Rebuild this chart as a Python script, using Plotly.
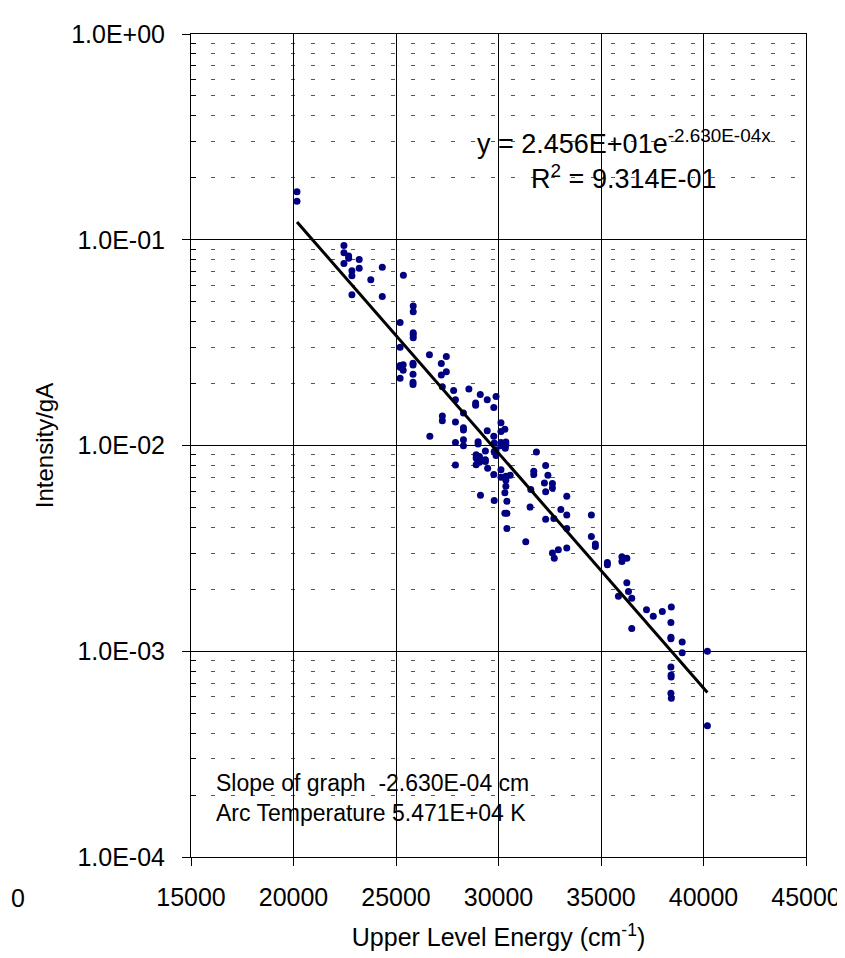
import plotly.graph_objects as go
import numpy as np

# Upper level energy (cm^-1) and Intensity/gA
energy = [20170, 20170, 22460, 22460, 22690, 22690, 23205, 22460, 23205, 22850,
          24330, 22850, 23770, 25360, 22850, 24330, 25840, 25840, 25200, 25840,
          25840, 25840, 25200, 26630, 27210, 27455, 25200, 25350, 25200, 25350,
          25830, 25830, 25830, 25200, 25830, 25830, 27210, 27455, 27260, 27810,
          27900, 28555, 29110, 29450, 28885, 28885, 29880, 29770, 27260, 27260,
          27900, 28290, 28290, 28290, 29450, 30120, 30120, 30310, 29770, 26650,
          27900, 28290, 28290, 29005, 29005, 29790, 30120, 30360, 30360, 30120,
          30330, 29880, 29360, 29790, 29880, 28910, 29070, 28910, 29150, 29230,
          29360, 29360, 28990, 29070, 28910, 27900, 29470, 30120, 29770, 30120,
          30360, 30570, 30360, 30360, 30310, 29120, 29790, 30410, 30310, 30410,
          30410, 31850, 32300, 31720, 31720, 32410, 32240, 32630, 32630, 32300,
          31575, 33330, 31540, 33040, 33330, 34530, 32300, 32700, 33330, 31330,
          34530, 34725, 34725, 32630, 32720, 32920, 33330, 35310, 35310, 36020,
          36020, 36260, 36260, 36340, 35850, 36500, 37220, 37550, 37990, 38430,
          36500, 38410, 38410, 38410, 38960, 38960, 40190, 38410, 38420, 38420,
          38410, 38430, 40190]
intensity = [0.171, 0.154, 0.0937, 0.0864, 0.0834, 0.0812, 0.0802, 0.0766, 0.0726, 0.0706,
             0.0736, 0.0669, 0.0639, 0.0672, 0.0541, 0.0530, 0.0477, 0.0447, 0.0396, 0.0353,
             0.0345, 0.0334, 0.0300, 0.0276, 0.0250, 0.0271, 0.0245, 0.0247, 0.0240, 0.0232,
             0.0251, 0.0246, 0.0222, 0.0212, 0.0203, 0.0198, 0.0220, 0.0228, 0.0193, 0.0185,
             0.0167, 0.0188, 0.0177, 0.0167, 0.0161, 0.0157, 0.0173, 0.0153, 0.0139, 0.0132,
             0.0130, 0.0144, 0.0122, 0.0119, 0.0118, 0.0129, 0.0117, 0.0120, 0.0111, 0.0111,
             0.01034, 0.01065, 0.00998, 0.01044, 0.01017, 0.01027, 0.01034, 0.0104, 0.01007, 0.00997,
             0.00971, 0.00953, 0.00939, 0.00935, 0.00895, 0.00902, 0.00885, 0.00869, 0.00853, 0.00846,
             0.00853, 0.00837, 0.00837, 0.00828, 0.00807, 0.00803, 0.00776, 0.00763, 0.00722, 0.00701,
             0.00709, 0.00716, 0.00678, 0.00634, 0.00589, 0.00573, 0.00541, 0.00536, 0.00468, 0.00468,
             0.00395, 0.00929, 0.00800, 0.00749, 0.00722, 0.00716, 0.00658, 0.00653, 0.00622, 0.00596,
             0.00611, 0.00567, 0.00502, 0.00489, 0.00459, 0.00459, 0.00438, 0.00442, 0.00395, 0.00341,
             0.00361, 0.00332, 0.00323, 0.00300, 0.00283, 0.00311, 0.00318, 0.00270, 0.00263, 0.00288,
             0.00273, 0.00283, 0.00215, 0.00195, 0.00185, 0.00181, 0.00159, 0.00148, 0.00156, 0.00164,
             0.00129, 0.00138, 0.00117, 0.00115, 0.00111, 0.000984, 0.000999, 0.000839, 0.000766, 0.000749,
             0.000625, 0.000591, 0.000434]

# Exponential trend line parameters (as given on the chart)
fit_a = 24.56
fit_b = -2.630e-4

x_ticks = [15000, 20000, 25000, 30000, 35000, 40000, 45000]
x_tick_labels = ["15000", "20000", "25000", "30000", "35000", "40000", "45000"]
y_ticks = [1e-4, 1e-3, 1e-2, 1e-1, 1e0]
y_tick_labels = ["1.0E-04", "1.0E-03", "1.0E-02", "1.0E-01", "1.0E+00"]
y_minor_ticks = [k * d for d in (1e-4, 1e-3, 1e-2, 1e-1) for k in range(2, 10)]

FONT = "Liberation Sans, Arial, sans-serif"

fit_x = np.linspace(min(energy), max(energy), 200)
fit_y = fit_a * np.exp(fit_b * fit_x)

fig = go.Figure()
fig.add_trace(go.Scatter(x=energy, y=intensity, mode="markers",
                         marker=dict(color="#000080", size=7, line=dict(width=0)),
                         showlegend=False))
fig.add_trace(go.Scatter(x=fit_x, y=fit_y, mode="lines",
                         line=dict(color="black", width=3), showlegend=False))

fig.update_layout(
    width=845, height=958,
    margin=dict(l=183, r=43, t=22, b=109),
    paper_bgcolor="white", plot_bgcolor="white",
    font=dict(family=FONT, size=25, color="black"),
    xaxis=dict(range=[15000, 45000], tickvals=x_ticks, ticktext=x_tick_labels,
               showgrid=True, gridcolor="black", gridwidth=1,
               showline=True, linecolor="black", linewidth=1, mirror=True,
               ticks="outside", ticklen=8, tickcolor="black", zeroline=False,
               ticklabelstandoff=10, tickfont=dict(size=25),
               title=dict(text="Upper Level Energy (cm<sup>-1</sup>)", font=dict(size=25), standoff=18)),
    yaxis=dict(type="log", range=[-4, 0], tickvals=y_ticks, ticktext=y_tick_labels,
               showgrid=True, gridcolor="black", gridwidth=1,
               showline=True, linecolor="black", linewidth=1, mirror=True,
               ticks="outside", ticklen=8, tickcolor="black", zeroline=False,
               ticklabelstandoff=12, tickfont=dict(size=25),
               minor=dict(tickvals=y_minor_ticks, showgrid=True, gridcolor="#555555",
                          gridwidth=1, griddash="4px,16px",
                          ticks="inside", ticklen=5, tickcolor="black"),
               title=dict(text="Intensity/gA", font=dict(size=24), standoff=10)),
    shapes=[
        dict(type="rect", xref="paper", yref="paper", x0=0.4524, x1=0.9564, y0=0.7944, y1=0.9081,
             fillcolor="white", line=dict(width=0), layer="between"),
        dict(type="rect", xref="paper", yref="paper", x0=0.0, x1=0.6333, y0=0.0326, y1=0.1161,
             fillcolor="white", line=dict(width=0), layer="between"),
    ],
    annotations=[
        dict(xref="paper", yref="paper", x=0.7044, y=0.8476, xanchor="center", yanchor="middle",
             text="y = 2.456E+01e<sup>-2.630E-04x</sup><br>R<sup>2</sup> = 9.314E-01",
             showarrow=False, align="center", font=dict(size=27)),
        dict(xref="paper", yref="paper", x=0.0372, y=0.0713, xanchor="left", yanchor="middle",
             text="Slope of graph&nbsp; -2.630E-04 cm<br>Arc Temperature 5.471E+04 K",
             showarrow=False, align="left", font=dict(size=23)),
        dict(xref="paper", yref="paper", x=-0.2956, y=-0.0496, xanchor="left", yanchor="middle",
             text="0", showarrow=False, font=dict(size=25)),
    ],
)

fig.write_html("out.html")
